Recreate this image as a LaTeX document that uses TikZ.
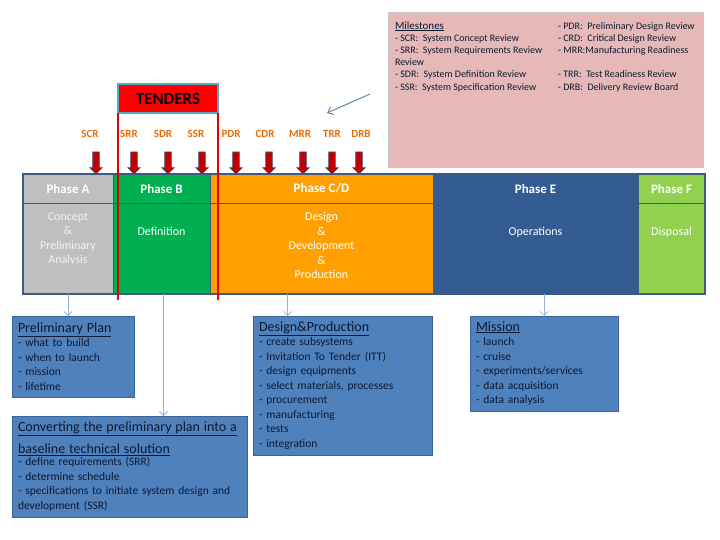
\documentclass[tikz,border=0pt]{standalone}
\usepackage{fontspec}
\setmainfont{Carlito}
\usepackage{tikz}
\usetikzlibrary{positioning,arrows.meta,shapes.arrows}

\definecolor{msPink}{RGB}{230,185,184}
\definecolor{msPinkBorder}{RGB}{200,200,200}
\definecolor{msOrange}{RGB}{228,108,10}
\definecolor{tenderRed}{RGB}{255,0,0}
\definecolor{tenderBorder}{RGB}{75,172,198}
\definecolor{lineRed}{RGB}{224,0,0}
\definecolor{arrowRed}{RGB}{192,0,0}
\definecolor{frameBlue}{RGB}{61,90,128}
\definecolor{phaseA}{RGB}{191,191,191}
\definecolor{phaseB}{RGB}{0,176,80}
\definecolor{phaseCD}{RGB}{255,160,0}
\definecolor{phaseE}{RGB}{51,92,146}
\definecolor{phaseF}{RGB}{146,208,80}
\definecolor{lightGray}{RGB}{242,242,242}
\definecolor{boxBlue}{RGB}{79,129,189}
\definecolor{boxBorder}{RGB}{58,101,152}
\definecolor{boxText}{RGB}{13,26,51}
\definecolor{linkBlue}{RGB}{149,179,215}
\definecolor{pointerBlue}{RGB}{90,123,168}

\newcommand\boxtitlefont{\fontsize{14}{14.5}\selectfont}

\begin{document}
\begin{tikzpicture}[
    x=1pt, y=-1pt,
    every node/.style={outer sep=0pt},
    phasehead/.style={
        draw=frameBlue,
        line width=0.8pt,
        minimum height=29pt,
        inner sep=0pt,
        text=white,
        font=\fontsize{13}{15}\selectfont\bfseries
    },
    phasebody/.style={draw=frameBlue, line width=0.8pt, minimum height=91pt, inner sep=0pt},
    bodytext/.style={align=center, inner sep=0pt, text=white, font=\fontsize{12}{14.5}\selectfont},
    infobox/.style={
        draw=boxBorder,
        fill=boxBlue,
        text=boxText,
        align=left,
        inner xsep=6pt,
        inner ysep=0pt,
        anchor=north west,
        font=\fontsize{11.5}{14.5}\selectfont
    },
    mslabel/.style={text=msOrange, inner sep=0pt, font=\fontsize{11}{12}\selectfont\bfseries},
    msarrow/.style={
        single arrow,
        shape border rotate=270,
        draw=frameBlue,
        fill=arrowRed,
        line width=0.6pt,
        minimum height=22pt,
        inner xsep=3pt,
        inner ysep=0pt,
        single arrow head extend=3pt,
        single arrow head indent=0pt,
        anchor=tip
    },
    link/.style={-{Straight Barb[length=4pt,width=8pt]}, draw=linkBlue, line width=0.8pt},
    pointer/.style={-{Straight Barb[length=5pt,width=8pt]}, draw=pointerBlue, line width=0.9pt},
    redline/.style={draw=lineRed, line width=2pt}
    ]
    \useasboundingbox (0,0) rectangle (720,540);

    % milestones legend
    \node[draw=msPinkBorder, fill=msPink, minimum width=315pt, minimum height=155pt, anchor=north west] (milestones) at (388,12) {};
    \node[anchor=north west, align=left, inner sep=0pt, text=boxText, font=\fontsize{10}{12.2}\selectfont]
        (mslist) at ([xshift=7pt,yshift=-9.5pt]milestones.north west) {%
        \makebox[163pt][l]{\underline{\fontsize{11}{12}\selectfont Milestones}}- PDR:\ \ Preliminary Design Review\\
        \makebox[163pt][l]{- SCR:\ \ System Concept Review}- CRD:\ \ Critical Design Review\\
        \makebox[163pt][l]{- SRR:\ \ System Requirements Review}- MRR:Manufacturing Readiness\\
        Review\\
        \makebox[163pt][l]{- SDR:\ \ System Definition Review}- TRR:\ \ Test Readiness Review\\
        \makebox[163pt][l]{- SSR:\ \ System Specification Review}- DRB:\ \ Delivery Review Board};

    \coordinate (ptrFrom) at (370,94);
    \coordinate (ptrTo) at (327,113);
    \draw[pointer] (ptrFrom) -- (ptrTo);

    % phase bar
    \node[phasehead, fill=phaseA, minimum width=90pt, anchor=north west] (hA) at (23,174) {Phase A};
    \node[phasehead, fill=phaseB, minimum width=97pt, right=0pt of hA] (hB) {Phase B};
    \node[phasehead, fill=phaseCD, minimum width=223pt, right=0pt of hB] (hCD) {Phase C/D};
    \node[phasehead, fill=phaseE, minimum width=205pt, right=0pt of hCD] (hE) {Phase E};
    \node[phasehead, fill=phaseF, minimum width=67pt, right=0pt of hE] (hF) {Phase F};

    \node[phasebody, fill=phaseA, minimum width=90pt, below=0pt of hA] (bA) {};
    \node[phasebody, fill=phaseB, minimum width=97pt, below=0pt of hB] (bB) {};
    \node[phasebody, fill=phaseCD, minimum width=223pt, below=0pt of hCD] (bCD) {};
    \node[phasebody, fill=phaseE, minimum width=205pt, below=0pt of hE] (bE) {};
    \node[phasebody, fill=phaseF, minimum width=67pt, below=0pt of hF] (bF) {};

    \node[bodytext, text=lightGray, below=9.5pt of hA] (tA) {Concept\\\&\\Preliminary\\Analysis};
    \node[bodytext, below=24pt of hB] (tB) {Definition};
    \node[bodytext, below=9.5pt of hCD] (tCD) {Design\\\&\\Development\\\&\\Production};
    \node[bodytext, below=24pt of hE] (tE) {Operations};
    \node[bodytext, below=24pt of hF] (tF) {Disposal};

    \draw[frameBlue, line width=1.5pt] (hA.north west) rectangle (bF.south east);

    % tenders window
    \node[draw=tenderBorder, line width=1.2pt, fill=tenderRed, minimum width=100pt, minimum height=29pt,
        inner sep=0pt, anchor=north west, font=\fontsize{17}{18}\selectfont\bfseries] (tenders) at (118,84) {TENDERS};
    \draw[redline] (tenders.south west) -- ++(0,187);
    \draw[redline] (tenders.south east) -- ++(0,187);

    % milestone reviews
    \foreach \ms/\lx/\ax in {SCR/90/96, SRR/129/134, SDR/163/168, SSR/196/202, PDR/231/236,
                            CDR/265/269, MRR/300/303, TRR/332/332, DRB/361/359} {
        \node[mslabel] (lab-\ms) at (\lx,134) {\ms};
        \node[msarrow] (arr-\ms) at (\ax,174) {};
    }

    % what happens in each phase
    \node[infobox, text width=110pt, minimum height=81pt] (plan) at (12,316)
        {{\boxtitlefont\underline{Preliminary Plan}}\\- what to build\\- when to launch\\- mission\\- lifetime};
    \node[infobox, text width=223pt, minimum height=101pt] (convert) at (12,416)
        {{\boxtitlefont\underline{Converting the preliminary plan into a}}\\[7.5pt]
         {\boxtitlefont\underline{baseline technical solution}}\\[-2pt]
         - define requirements (SRR)\\- determine schedule\\
         - specifications to initiate system design and\\development (SSR)};
    \node[infobox, text width=167pt, minimum height=139pt] (design) at (253,316)
        {{\boxtitlefont\underline{Design\&Production}}\\- create subsystems\\- Invitation To Tender (ITT)\\
         - design equipments\\- select materials, processes\\- procurement\\- manufacturing\\- tests\\- integration};
    \node[infobox, text width=136pt, minimum height=95pt] (mission) at (470,316)
        {{\boxtitlefont\underline{Mission}}\\- launch\\- cruise\\- experiments/services\\- data acquisition\\- data analysis};

    \coordinate (cdOut) at ([xshift=-34pt]bCD.south);
    \coordinate (bOut) at ([xshift=2pt]bB.south);
    \draw[link] (bA.south) -- (bA.south |- plan.north);
    \draw[link] (bOut) -- (bOut |- convert.north);
    \draw[link] (cdOut) -- (cdOut |- design.north);
    \draw[link] (mission.north |- bE.south) -- (mission.north);

\end{tikzpicture}
\end{document}
